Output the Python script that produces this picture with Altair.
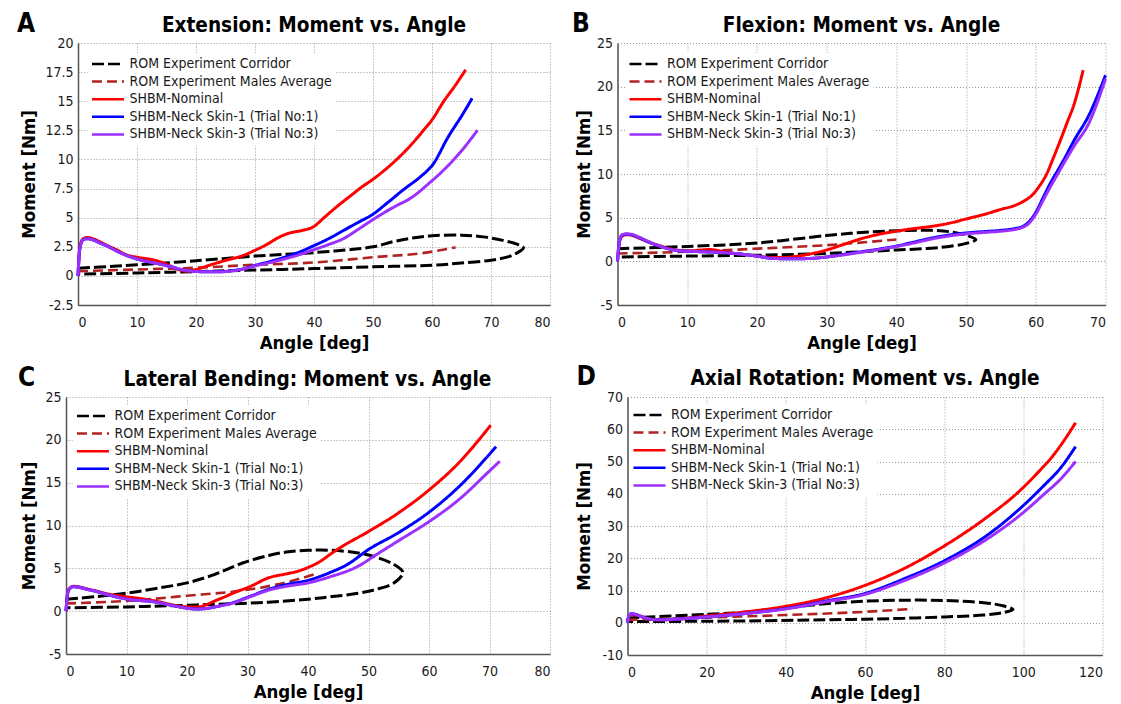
import altair as alt
import pandas as pd

SERIES = ["ROM Experiment Corridor", "ROM Experiment Males Average", "SHBM-Nominal",
          "SHBM-Neck Skin-1 (Trial No:1)", "SHBM-Neck Skin-3 (Trial No:3)"]
COLORS = ["#000000", "#b22222", "#ff0000", "#0000ff", "#9b30ff"]
DASHES = [[12, 4], [10, 5], [1, 0], [1, 0], [1, 0]]

FONT = "DejaVu Sans Condensed, DejaVu Sans"

# ---------------- Panel A: Extension ----------------
A_cor_x = [0, 5, 10, 20, 30, 40, 50, 53.5, 56.6, 60, 65, 68.7, 72, 74.5, 75.5, 74.5, 73, 70, 65, 60, 50, 40, 30, 20, 10, 0]
A_cor_y = [0.65, 0.8, 0.95, 1.3, 1.7, 2.0, 2.5, 2.95, 3.25, 3.45, 3.5, 3.35, 3.05, 2.7, 2.4, 2.0, 1.65, 1.35, 1.1, 0.92, 0.78, 0.63, 0.5, 0.37, 0.25, 0.15]
A_avg_x = [0, 10, 20, 30, 40, 50, 59, 64]
A_avg_y = [0.4, 0.55, 0.7, 0.95, 1.15, 1.6, 2.0, 2.45]
A_red_x = [0, 0.3, 0.8, 1.5, 2.5, 3.6, 5, 6.7, 8, 10, 12, 13.4, 15, 17, 18.5, 20, 22.5, 25.5, 28, 30, 32, 34, 36, 38, 40, 41.7, 44, 46.5, 48, 50, 53.8, 56, 58.4, 60, 62, 64, 65.7]
A_red_y = [0, 2.4, 3.15, 3.3, 3.2, 2.95, 2.6, 2.2, 1.85, 1.6, 1.45, 1.3, 1.0, 0.55, 0.4, 0.55, 0.95, 1.4, 1.75, 2.2, 2.7, 3.3, 3.7, 3.9, 4.25, 5.0, 6.0, 7.0, 7.6, 8.3, 9.9, 11.0, 12.4, 13.4, 15.0, 16.4, 17.7]
A_blue_x = [0, 0.3, 0.8, 1.5, 2.5, 3.6, 5, 6.7, 8, 10, 12, 14, 16, 18, 20, 22, 24, 26, 28, 30, 33, 35.3, 38, 40, 42.5, 45, 47.5, 50, 52.5, 55.4, 58, 60.2, 62.7, 65.1, 66.8]
A_blue_y = [0, 2.3, 3.05, 3.2, 3.1, 2.85, 2.55, 2.1, 1.8, 1.45, 1.2, 1.0, 0.75, 0.5, 0.38, 0.35, 0.35, 0.45, 0.6, 0.9, 1.3, 1.65, 2.15, 2.6, 3.2, 3.9, 4.6, 5.3, 6.3, 7.5, 8.5, 9.6, 11.9, 13.8, 15.25]
A_purple_x = [0, 0.3, 0.8, 1.5, 2.5, 3.6, 5, 6.7, 8, 10, 12, 14, 16, 18, 20, 22, 24, 26, 28, 30, 33, 35.3, 38, 40, 42.5, 45, 47.5, 50.5, 53.5, 56.6, 59.6, 62, 65.1, 67.7]
A_purple_y = [0, 2.3, 3.05, 3.2, 3.1, 2.85, 2.55, 2.1, 1.8, 1.45, 1.2, 1.0, 0.75, 0.5, 0.38, 0.35, 0.35, 0.42, 0.58, 0.85, 1.2, 1.5, 1.9, 2.25, 2.7, 3.2, 4.0, 5.0, 5.9, 6.75, 8.0, 9.1, 10.8, 12.5]

# ---------------- Panel B: Flexion ----------------
B_cor_x = [0, 10, 20, 30, 35, 40, 45, 48, 50, 51.4, 50, 48, 45, 40, 35, 30, 20, 10, 0]
B_cor_y = [1.45, 1.7, 2.1, 2.95, 3.3, 3.5, 3.55, 3.35, 3.0, 2.5, 2.05, 1.75, 1.5, 1.3, 1.1, 0.9, 0.7, 0.6, 0.5]
B_avg_x = [0, 10, 20, 30, 40]
B_avg_y = [0.9, 1.1, 1.45, 1.85, 2.5]
B_red_x = [0, 0.3, 0.7, 1.2, 2, 3, 4.5, 6, 7.5, 9, 10.5, 12, 13.3, 15, 16.5, 18, 20, 22, 24, 25.5, 27, 30, 32.5, 35, 37.5, 40, 42.5, 45, 47.5, 50, 52.5, 55, 57, 58.5, 59.5, 60.5, 61.5, 62.5, 63.5, 64.5, 65.5, 66.8]
B_red_y = [0, 2.3, 2.9, 3.05, 3.0, 2.7, 2.2, 1.8, 1.45, 1.25, 1.2, 1.3, 1.35, 1.15, 0.95, 0.8, 0.6, 0.45, 0.45, 0.55, 0.75, 1.3, 1.95, 2.6, 3.1, 3.45, 3.75, 4.0, 4.35, 4.85, 5.35, 5.95, 6.4, 7.0, 7.6, 8.6, 9.9, 11.8, 13.8, 15.9, 18.0, 21.9]
B_blue_x = [0, 0.3, 0.7, 1.2, 2, 3, 4.5, 6, 7.5, 9, 10.5, 12, 14, 16, 18, 20, 22, 24, 26, 28, 30, 32.5, 35, 37.5, 40, 42.5, 45, 47.5, 50, 52.5, 55, 57, 58, 59, 60, 61, 62, 63, 64, 65.5, 67.6, 70]
B_blue_y = [0, 2.4, 3.0, 3.1, 3.05, 2.75, 2.2, 1.75, 1.4, 1.2, 1.15, 1.1, 1.05, 0.95, 0.8, 0.6, 0.35, 0.3, 0.3, 0.35, 0.5, 0.8, 1.1, 1.4, 1.75, 2.2, 2.65, 3.0, 3.25, 3.4, 3.55, 3.75, 3.95, 4.5, 5.6, 7.2, 8.8, 10.2, 11.6, 13.85, 16.7, 21.3]
B_purple_x = [0, 0.3, 0.7, 1.2, 2, 3, 4.5, 6, 7.5, 9, 10.5, 12, 14, 16, 18, 20, 22, 24, 26, 28, 30, 32.5, 35, 37.5, 40, 42.5, 45, 47.5, 50, 52.5, 55, 57, 58, 59, 60, 61, 62, 63, 64, 65.5, 67.6, 70]
B_purple_y = [0, 2.45, 3.05, 3.15, 3.1, 2.8, 2.25, 1.75, 1.4, 1.2, 1.15, 1.1, 1.05, 0.95, 0.8, 0.6, 0.35, 0.3, 0.3, 0.35, 0.5, 0.75, 1.05, 1.35, 1.7, 2.1, 2.55, 2.9, 3.15, 3.3, 3.45, 3.65, 3.85, 4.35, 5.4, 6.9, 8.4, 9.8, 11.2, 13.2, 15.8, 20.9]

# ---------------- Panel C: Lateral Bending ----------------
C_cor_x = [0, 5, 10, 15.7, 20, 24.6, 29.3, 33.5, 36.4, 40, 44, 48.3, 51.3, 54.2, 55.7, 54.2, 51.3, 48.3, 44, 40, 33.5, 24.6, 15.7, 10, 0]
C_cor_y = [1.4, 1.7, 2.1, 2.75, 3.3, 4.3, 5.65, 6.5, 6.9, 7.1, 7.1, 6.8, 6.3, 5.45, 4.5, 3.3, 2.55, 2.1, 1.7, 1.4, 1.05, 0.8, 0.6, 0.5, 0.4]
C_avg_x = [0, 10, 20, 30, 36, 41.5]
C_avg_y = [0.9, 1.2, 1.8, 2.5, 3.3, 4.4]
C_red_x = [0, 0.3, 0.7, 1.2, 2, 3.5, 5, 7, 9.8, 12, 13.9, 16, 17.5, 19.9, 21.9, 23, 24.6, 26, 27.6, 30.5, 33.5, 36.4, 38.5, 40, 42, 43.6, 45.3, 50, 54.8, 60.1, 64.9, 70.2]
C_red_y = [0, 2.2, 2.75, 2.9, 2.85, 2.6, 2.35, 2.0, 1.7, 1.5, 1.3, 1.0, 0.75, 0.5, 0.5, 0.7, 1.2, 1.6, 2.1, 2.9, 3.9, 4.35, 4.7, 5.1, 5.8, 6.6, 7.4, 9.3, 11.4, 14.2, 17.3, 21.7]
C_blue_x = [0, 0.3, 0.7, 1.2, 2, 3.5, 5, 7, 9.8, 12, 14, 16, 18, 20, 21.5, 23, 25, 27.6, 30.5, 33.5, 36.4, 40, 43.6, 46.5, 50, 54.8, 60.1, 64.9, 71.1]
C_blue_y = [0, 2.2, 2.7, 2.85, 2.8, 2.55, 2.3, 1.9, 1.45, 1.25, 1.15, 0.9, 0.6, 0.35, 0.25, 0.3, 0.55, 1.0, 1.75, 2.55, 3.1, 3.6, 4.5, 5.45, 7.2, 9.1, 11.6, 14.5, 19.2]
C_purple_x = [0, 0.3, 0.7, 1.2, 2, 3.5, 5, 7, 9.8, 12, 14, 16, 18, 20, 21.5, 23, 25, 27.6, 30.5, 33.5, 36.4, 40, 43.6, 48.3, 51.3, 54.8, 60.1, 64.9, 69.9, 71.7]
C_purple_y = [0, 2.2, 2.7, 2.85, 2.8, 2.55, 2.3, 1.9, 1.45, 1.25, 1.15, 0.9, 0.6, 0.35, 0.25, 0.3, 0.55, 0.95, 1.7, 2.45, 2.9, 3.3, 4.0, 5.25, 6.6, 8.15, 10.5, 13.0, 16.3, 17.5]

# ---------------- Panel D: Axial Rotation ----------------
D_cor_x = [0, 20, 30, 40, 50, 60, 70, 80, 90, 94.7, 97.4, 94.7, 90, 80, 70, 60, 50, 30, 0]
D_cor_y = [1.5, 2.6, 3.3, 4.6, 5.9, 6.7, 7.0, 6.9, 6.2, 5.3, 4.1, 3.1, 2.4, 1.8, 1.4, 1.1, 0.9, 0.55, 0.35]
D_avg_x = [0, 20, 40, 60, 72]
D_avg_y = [0.9, 1.6, 2.4, 3.4, 4.3]
D_red_x = [0, 0.3, 1, 2, 3, 4.2, 5.5, 7, 9.7, 15, 20, 30, 40, 50, 60, 70, 80, 90, 99.6, 104, 107.3, 110, 113.2]
D_red_y = [0, 1.8, 2.6, 2.5, 2.1, 1.6, 1.2, 0.9, 0.9, 1.4, 2.1, 3.4, 5.1, 7.7, 11.6, 16.9, 23.8, 32.0, 41.5, 47.0, 51.5, 56.0, 62.0]
D_blue_x = [0, 0.3, 1, 2, 3, 4.2, 5.5, 7.9, 12, 20, 30, 40, 50, 60, 70, 80, 90, 99.6, 105, 109.6, 113.2]
D_blue_y = [0, 2.0, 2.8, 2.6, 2.2, 1.6, 1.2, 0.9, 1.1, 1.8, 2.9, 4.4, 6.7, 9.1, 13.7, 19.2, 26.4, 35.9, 42.3, 48.3, 54.6]
D_purple_x = [0, 0.3, 1, 2, 3, 4.2, 5.5, 7.9, 12, 20, 30, 40, 50, 60, 70, 80, 90, 99.6, 105, 109.6, 113.2]
D_purple_y = [0, 2.0, 2.8, 2.6, 2.2, 1.6, 1.2, 0.9, 1.1, 1.8, 2.9, 4.3, 6.5, 8.8, 13.1, 18.5, 25.3, 33.8, 39.6, 44.8, 50.0]

LABEL_EXPR = "replace(format(datum.value, ''), '\u2212', '-')"


def frange(a, b, s):
    out, v = [], a
    while v <= b + 1e-9:
        out.append(round(v, 4))
        v += s
    return out


def panel(letter, title, curves, xdom, xstep, ydom, ystep, w, h, shift, letter_xy, legend_xy,
          ytitle_pad=6, title_dx=0):
    rows = []
    for s, (xs, ys) in zip(SERIES, curves):
        for i, (x, y) in enumerate(zip(xs, ys)):
            rows.append({"series": s, "angle": x, "moment": y, "idx": i})
    df = pd.DataFrame(rows)

    xenc = alt.X("angle:Q", scale=alt.Scale(domain=xdom, nice=False, zero=False, range=[-shift, w]),
                 axis=alt.Axis(values=frange(xdom[0], xdom[1], xstep), title="Angle [deg]",
                               labelExpr=LABEL_EXPR, labelPadding=10, titlePadding=4))
    yenc = alt.Y("moment:Q", scale=alt.Scale(domain=ydom, nice=False, zero=False),
                 axis=alt.Axis(values=frange(ydom[0], ydom[1], ystep), title="Moment [Nm]",
                               labelExpr=LABEL_EXPR, labelPadding=5, titlePadding=ytitle_pad,
                               offset=shift))
    legend = alt.Legend(title=None, orient="none", legendX=legend_xy[0], legendY=legend_xy[1],
                        symbolType="M-4,0H4", symbolSize=64, symbolStrokeWidth=2.5,
                        symbolOffset=9, labelOffset=14.5,
                        labelFont=FONT, labelFontSize=14, labelColor="#1a1a1a", labelLimit=0,
                        fillColor="white", padding=4, rowPadding=3.6)
    cenc = alt.Color("series:N", scale=alt.Scale(domain=SERIES, range=COLORS), legend=legend)
    denc = alt.StrokeDash("series:N", scale=alt.Scale(domain=SERIES, range=DASHES), legend=legend)

    layers = []
    for k, s in enumerate(SERIES):
        interp = "catmull-rom" if k == 0 else "monotone"
        sw = 3 if k != 1 else 2.6
        layers.append(
            alt.Chart(df).transform_filter(alt.datum.series == s)
            .mark_line(interpolate=interp, strokeWidth=sw, strokeCap="butt")
            .encode(x=xenc, y=yenc, color=cenc, strokeDash=denc, order="idx:Q")
        )
    lt = alt.Chart(pd.DataFrame({"t": [letter]})).mark_text(
        font=FONT, fontSize=26, fontWeight="bold", align="left", baseline="alphabetic", color="#000"
    ).encode(text="t:N", x=alt.value(letter_xy[0]), y=alt.value(letter_xy[1]))
    layers.append(lt)
    return alt.layer(*layers).properties(
        width=w, height=h, title=alt.TitleParams(text=title, dx=title_dx))


pA = panel("A", "Extension: Moment vs. Angle",
           [(A_cor_x, A_cor_y), (A_avg_x, A_avg_y), (A_red_x, A_red_y), (A_blue_x, A_blue_y), (A_purple_x, A_purple_y)],
           [0, 80], 10, [-2.5, 20], 2.5, 472, 262, 0, (-61, -11), (10, 10))
pB = panel("B", "Flexion: Moment vs. Angle",
           [(B_cor_x, B_cor_y), (B_avg_x, B_avg_y), (B_red_x, B_red_y), (B_blue_x, B_blue_y), (B_purple_x, B_purple_y)],
           [0, 70], 10, [-5, 25], 5, 478, 262, 10, (-55.4, -11), (-2, 10), ytitle_pad=2.5, title_dx=-5)
pC = panel("C", "Lateral Bending: Moment vs. Angle",
           [(C_cor_x, C_cor_y), (C_avg_x, C_avg_y), (C_red_x, C_red_y), (C_blue_x, C_blue_y), (C_purple_x, C_purple_y)],
           [0, 80], 10, [-5, 25], 5, 472, 257, 12, (-60, -11), (-5, 8), title_dx=-6.5)
pD = panel("D", "Axial Rotation: Moment vs. Angle",
           [(D_cor_x, D_cor_y), (D_avg_x, D_avg_y), (D_red_x, D_red_y), (D_blue_x, D_blue_y), (D_purple_x, D_purple_y)],
           [0, 120], 20, [-10, 70], 10, 475, 258, 0, (-51, -12), (2, 7), ytitle_pad=8)

chart = (
    alt.concat(pA, pB, pC, pD, columns=2, spacing={"row": 12, "column": 9.5})
    .resolve_scale(color="independent", strokeDash="independent")
    .properties(padding={"left": 17, "top": 11, "right": 4, "bottom": 2}, background="white")
    .configure_view(stroke=None)
    .configure_axis(grid=True, gridColor="#999999", gridDash=[1, 2], gridWidth=1,
                    domainColor="#555555", domainWidth=1.5, ticks=False, tickSize=0,
                    labelFont=FONT, labelFontSize=14, labelColor="#1a1a1a",
                    titleFont=FONT, titleFontSize=18.5, titleFontWeight="bold", titleColor="#000")
    .configure_title(font=FONT, fontSize=20.6, fontWeight="bold", color="#000", anchor="middle",
                     offset=7, frame="group", dy=33)
)

chart.save("out.html", embed_options={"renderer": "svg", "actions": False})
